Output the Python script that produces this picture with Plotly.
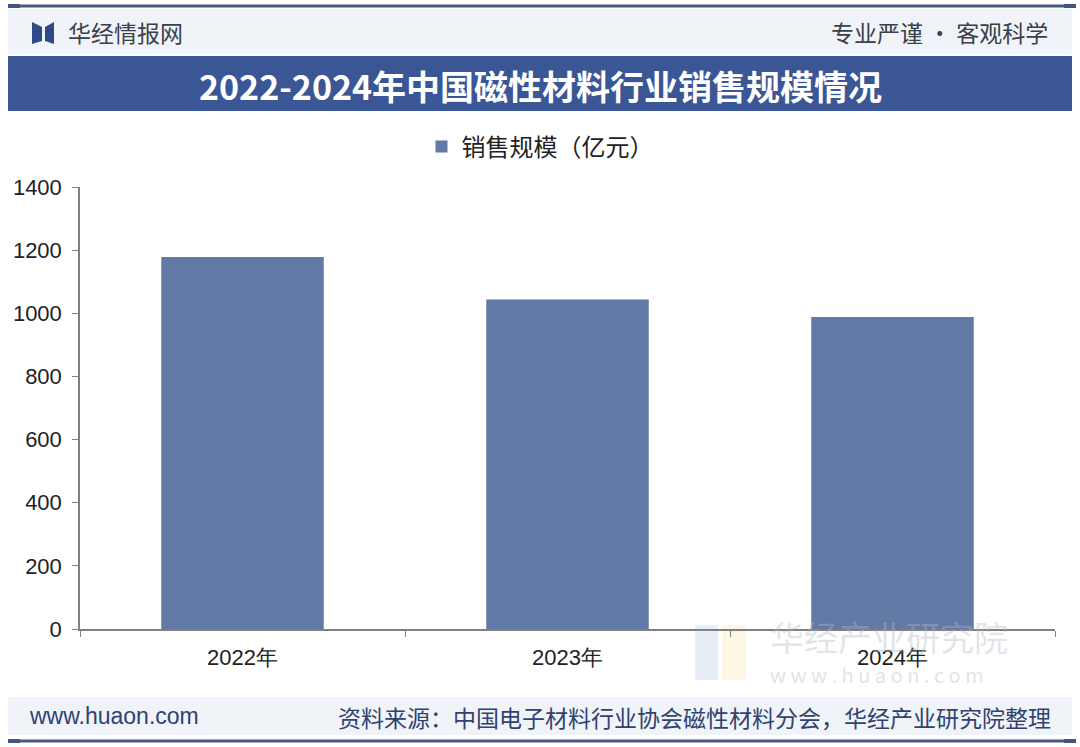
import plotly.graph_objects as go

# data
years = ["2022年", "2023年", "2024年"]
sales = [1178, 1044, 988]
series_name = "销售规模（亿元）"
y_ticks = [0, 200, 400, 600, 800, 1000, 1200, 1400]

W, H = 1080, 747
L, R, T, B = 80, 25, 187, 118
FONT = "Noto Sans CJK SC"
NAVY = "#3b5694"
BAR = "#6379a5"


def px(x):
    return (x - L) / (W - L - R)


def py(y):
    return (H - B - y) / (H - T - B)


fig = go.Figure()
fig.add_trace(go.Bar(
    x=years, y=sales, name=series_name,
    marker=dict(color=BAR, line=dict(width=0)),
    width=0.5,
    showlegend=True,
))

shapes = []
# header band and lines
shapes.append(dict(type="rect", xref="paper", yref="paper",
                   x0=px(8), x1=px(1072), y0=py(54), y1=py(9),
                   fillcolor="#f0f3f8", line=dict(width=0), layer="below"))
shapes.append(dict(type="line", xref="paper", yref="paper",
                   x0=px(8), x1=px(1072), y0=py(6), y1=py(6),
                   line=dict(color="#4b5a7c", width=3)))
for xx in (8, 1064):
    shapes.append(dict(type="rect", xref="paper", yref="paper",
                       x0=px(xx), x1=px(xx + 12), y0=py(8), y1=py(4),
                       fillcolor="#3f5682", line=dict(width=0)))
# title bar
shapes.append(dict(type="rect", xref="paper", yref="paper",
                   x0=px(8), x1=px(1072), y0=py(111), y1=py(56),
                   fillcolor=NAVY, line=dict(width=0)))
# logo
shapes.append(dict(type="path", xref="paper", yref="paper",
                   path="M %f %f L %f %f L %f %f L %f %f Z" % (
                       px(32), py(22), px(42), py(27), px(42), py(41), px(32), py(44)),
                   fillcolor="#2f4a86", line=dict(width=0)))
shapes.append(dict(type="path", xref="paper", yref="paper",
                   path="M %f %f L %f %f L %f %f L %f %f Z" % (
                       px(45), py(27), px(54), py(22), px(54), py(44), px(45), py(41)),
                   fillcolor="#2f4a86", line=dict(width=0)))
# footer band and line
shapes.append(dict(type="rect", xref="paper", yref="paper",
                   x0=px(8), x1=px(1072), y0=py(735), y1=py(697),
                   fillcolor="#f0f3f8", line=dict(width=0), layer="below"))
shapes.append(dict(type="line", xref="paper", yref="paper",
                   x0=px(8), x1=px(1072), y0=py(741), y1=py(741),
                   line=dict(color="#4b5a7c", width=3)))
for xx in (8, 1064):
    shapes.append(dict(type="rect", xref="paper", yref="paper",
                       x0=px(xx), x1=px(xx + 12), y0=py(743), y1=py(739),
                       fillcolor="#3f5682", line=dict(width=0)))
# watermark logo
shapes.append(dict(type="rect", xref="paper", yref="paper",
                   x0=px(695), x1=px(718), y0=py(680), y1=py(625),
                   fillcolor="rgba(190,205,235,0.35)", line=dict(width=0), layer="below"))
shapes.append(dict(type="rect", xref="paper", yref="paper",
                   x0=px(722), x1=px(746), y0=py(680), y1=py(625),
                   fillcolor="rgba(250,230,180,0.35)", line=dict(width=0), layer="below"))

annotations = [
    dict(text="华经情报网", x=px(66), y=py(32), xanchor="left", yanchor="middle",
         font=dict(size=23, color="#3a3f4a", family=FONT)),
    dict(text="专业严谨 • 客观科学", x=px(1050), y=py(32), xanchor="right", yanchor="middle",
         font=dict(size=23, color="#3a3f4a", family=FONT)),
    dict(text="<b>2022-2024年中国磁性材料行业销售规模情况</b>", x=px(540), y=py(86),
         xanchor="center", yanchor="middle",
         font=dict(size=34, color="white", family=FONT)),
    dict(text="华经产业研究院", x=px(768), y=py(636), xanchor="left", yanchor="middle",
         font=dict(size=34, color="rgba(180,184,192,0.4)", family=FONT)),
    dict(text="w w w . h u a o n . c o m", x=px(768), y=py(674), xanchor="left", yanchor="middle",
         font=dict(size=20, color="rgba(180,184,192,0.4)", family=FONT)),
    dict(text="www.huaon.com", x=px(27), y=py(716), xanchor="left", yanchor="middle",
         font=dict(size=23, color="#2f4270", family="Liberation Sans")),
    dict(text="资料来源：中国电子材料行业协会磁性材料分会，华经产业研究院整理", x=px(1053), y=py(717),
         xanchor="right", yanchor="middle",
         font=dict(size=23, color="#2f4270", family=FONT)),
]
for a in annotations:
    a.update(xref="paper", yref="paper", showarrow=False)

fig.update_layout(
    width=W, height=H,
    margin=dict(l=L, r=R, t=T, b=B),
    paper_bgcolor="white", plot_bgcolor="white",
    font=dict(family="Liberation Sans", color="#222"),
    shapes=shapes,
    annotations=annotations,
    showlegend=True,
    legend=dict(orientation="h", x=px(540), y=py(147), xanchor="center", yanchor="middle",
                font=dict(size=24, family=FONT, color="#222"), bgcolor="rgba(0,0,0,0)",
                itemwidth=30),
    xaxis=dict(showline=True, linecolor="#808080", linewidth=1.5, ticks="outside",
               tickson="boundaries", ticklen=6, tickcolor="#808080", ticklabelstandoff=8,
               tickfont=dict(size=22, family="Liberation Sans", color="#222"),
               showgrid=False),
    yaxis=dict(range=[0, 1400], tickvals=y_ticks, showline=True, linecolor="#808080", linewidth=1.5,
               ticks="outside", ticklen=6, tickcolor="#808080", showgrid=False, zeroline=False,
               ticklabelstandoff=6,
               tickfont=dict(size=22, family="Liberation Sans", color="#222")),
    bargap=0.5,
)

fig.write_html("out.html", config={"displayModeBar": False},
               post_script="document.body.style.margin='0';")
